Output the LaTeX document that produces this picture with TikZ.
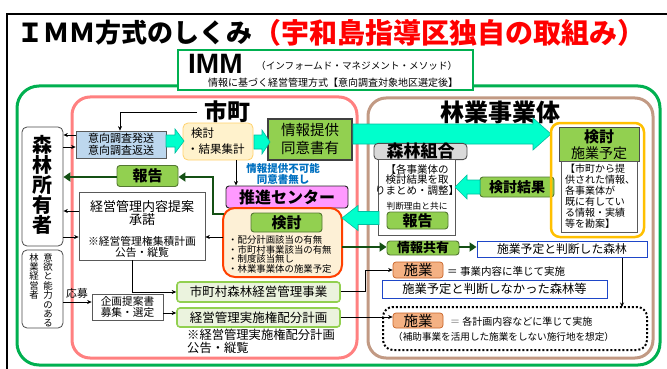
\documentclass[tikz,border=0pt]{standalone}
\usepackage{fontspec}
\setmainfont{Noto Sans CJK JP}
\newfontfamily\latinf{Liberation Sans}
\usetikzlibrary{arrows.meta}
\definecolor{gOuter}{RGB}{0,176,80}
\definecolor{pinkL}{RGB}{255,128,128}
\definecolor{brownL}{RGB}{194,154,132}
\definecolor{cyanF}{RGB}{0,255,204}
\definecolor{cyanD}{RGB}{0,190,160}
\definecolor{gFill}{RGB}{146,208,80}
\definecolor{gDraw}{RGB}{84,120,50}
\definecolor{lBlue}{RGB}{189,215,238}
\definecolor{cream}{RGB}{255,242,204}
\definecolor{creamD}{RGB}{255,210,110}
\definecolor{violetF}{RGB}{255,153,255}
\definecolor{contF}{RGB}{253,240,214}
\definecolor{contD}{RGB}{255,64,0}
\definecolor{salmonF}{RGB}{244,177,131}
\definecolor{salmonD}{RGB}{200,100,40}
\definecolor{blueD}{RGB}{30,70,200}
\definecolor{fukano}{RGB}{0,112,192}
\definecolor{orangeL}{RGB}{255,192,0}
\definecolor{grayH}{RGB}{217,217,217}
\definecolor{dGreen}{RGB}{20,80,20}
\definecolor{lGreenF}{RGB}{235,243,222}
\newcommand\fsz[2]{\fontsize{#1pt}{#2pt}\selectfont}
\newcommand\blkarrow[6]{\filldraw[fill=cyanF,draw=cyanD,line width=0.6pt] ({#1},{#4-#5}) -- ({#2},{#4-#5}) -- ({#2},{#4-#6}) -- ({#3},{#4}) -- ({#2},{#4+#6}) -- ({#2},{#4+#5}) -- ({#1},{#4+#5}) -- cycle;}
\begin{document}
\begin{tikzpicture}[x=1pt,y=-1pt,
  every node/.style={inner sep=0pt},
  box/.style={draw=gray!70!black,line width=0.7pt,fill=white},
  gbox/.style={draw=gDraw,line width=0.9pt,fill=gFill,rounded corners=3pt},
  lgbox/.style={draw=gFill,line width=1.6pt,fill=lGreenF,rounded corners=3pt},
  bbox/.style={draw=blueD,line width=1pt,fill=white},
  sbox/.style={draw=salmonD,line width=0.7pt,fill=salmonF,rounded corners=3pt},
  tarrow/.style={-{Stealth[length=4.5pt,width=4pt]},line width=0.7pt},
  dgarrow/.style={-{Triangle[length=7pt,width=9pt]},line width=2.6pt,draw=dGreen}]
\useasboundingbox (0,0) rectangle (667,369);
\fill[white] (0,0) rectangle (667,369);
% frame
\draw[line width=1.2pt] (7,369) -- (7,14) -- (667,14);
% title
\node[anchor=west,font=\fsz{26}{26}\bfseries] (t1) at (17,33) {ＩＭＭ方式のしくみ};
\node[anchor=west,font=\fsz{28}{28}\bfseries,text=red] (t2) at (253,33) {（宇和島指導区独自の取組み）};
% big containers
\draw[gOuter,line width=3pt,rounded corners=22pt] (17,86) rectangle (660,365);
\draw[pinkL,line width=3pt,rounded corners=18pt] (72,97) rectangle (357,358);
\draw[brownL,line width=3pt,rounded corners=18pt] (368,98) rectangle (653,358);
% IMM box
\node[draw=gOuter,line width=1.5pt,fill=white,minimum width=295pt,minimum height=40pt] (imm) at (325.5,70) {};
\node[anchor=base west,font=\latinf\fsz{28}{28}\bfseries] (immt) at (188,73.5) {IMM};
\node[anchor=west,font=\fsz{9.6}{10}] (immsub) at (256,66) {（インフォームド・マネジメント・メソッド）};
\node[font=\fsz{10}{10}] (immsub2) at (333,83) {情報に基づく経営管理方式【意向調査対象地区選定後】};
% headings
\node[font=\fsz{23}{23}\bfseries] (shicho) at (227,112) {市町};
\node[font=\fsz{24}{24}\bfseries] (ringyo) at (500,112) {林業事業体};
% left column
\node[draw=gray!60!black,line width=0.8pt,fill=white,rounded corners=5pt,minimum width=41pt,minimum height=119pt] (owner) at (42.5,186.5) {};
\node[font=\fsz{20}{20}\bfseries,align=center] (ownert) at (42.5,185) {森\\林\\所\\有\\者};
\node[draw=gray!60!black,line width=0.8pt,fill=white,rounded corners=5pt,minimum width=41pt,minimum height=78pt] (abil) at (42.5,289) {};
\node[anchor=north,font=\fsz{9.4}{9.4},align=center] (abil1) at (48,253) {意\\欲\\と\\能\\力\\の\\あ\\る};
\node[anchor=north,font=\fsz{9.4}{9.4},align=center] (abil2) at (34,253) {林\\業\\経\\営\\者};
% survey box
\node[box,fill=lBlue,minimum width=90pt,minimum height=27pt,font=\fsz{11}{11.5},align=center] (ikou) at (121,144.5) {意向調査発送\\意向調査返送};
\coordinate (shichoL) at (197,112);
\draw[tarrow] (shichoL) -| (ikou.north -| 120,0);
\draw[tarrow] (ikou.west |- 0,135) -- (owner.east |- 0,135);
\draw[tarrow] (owner.east |- 0,147) -- (ikou.west |- 0,147);
% kento1
\node[draw=creamD,line width=0.8pt,fill=cream,rounded corners=5pt,minimum width=70pt,minimum height=37pt] (kento1) at (218,141.5) {};
\node[anchor=west,font=\fsz{11.5}{11.5}] (k1a) at (191,133) {検討};
\node[anchor=west,font=\fsz{11.5}{11.5}] (k1b) at (187,149) {・結果集計};
% jouhou
\node[draw=black!75,line width=1.6pt,fill=gFill,minimum width=84pt,minimum height=41pt,font=\fsz{14.5}{18},align=center] (jouhou) at (310,139.5) {情報提供\\同意書有};
% cyan arrows top
\blkarrow{166}{175}{184}{141}{6}{12}
\blkarrow{254}{262}{270}{142}{7}{12}
\blkarrow{353}{533}{551}{134}{10}{16}
% fukano
\node[font=\fsz{10.5}{10.5}\bfseries,text=fukano,align=center] (fukano) at (283,174) {情報提供不可能\\同意書無し};
% suishin
\node[draw=black!85,line width=0.9pt,fill=violetF,rounded corners=3pt,minimum width=122pt,minimum height=22pt,font=\fsz{16}{16}\bfseries] (suishin) at (287,197) {推進センター};
\draw[tarrow] (kento1.south -| 236,0) -- (suishin.north -| 236,0);
% container
\draw[contD,line width=2pt,fill=contF,rounded corners=12pt] (223,208) rectangle (342,277);
\coordinate (contL) at (224,214);
\coordinate (contLb) at (223,237);
\coordinate (contR) at (342,247);
\node[gbox,minimum width=71pt,minimum height=19pt,font=\fsz{15}{15}\bfseries] (kento2) at (286.5,222.5) {検討};
\node[anchor=north west,font=\fsz{9.4}{9.5},align=left] (bul) at (228,235.5) {・配分計画該当の有無\\・市町村事業該当の有無\\・制度該当無し\\・林業事業体の施業予定};
% houkoku left
\node[gbox,minimum width=61pt,minimum height=21pt,font=\fsz{15}{15}\bfseries] (hk1) at (147.5,176) {報告};
\draw[dgarrow] (contL) -- (213,214) -- (213,177) -- (hk1.east |- 0,177);
\draw[dgarrow] (hk1.west |- 0,177) -- (owner.east |- 0,177);
% keiei box
\node[box,minimum width=126pt,minimum height=68pt] (keiei) at (142,226) {};
\node[font=\fsz{13}{13},align=center] (keieit) at (142,213.5) {経営管理内容提案\\承諾};
\node[font=\fsz{10.8}{11},align=center] (keieit2) at (142,247) {※経営管理権集積計画\\公告・縦覧};
\draw[tarrow] (keiei.west |- 0,211) -- (owner.east |- 0,211);
\draw[tarrow] (owner.east |- 0,237) -- (keiei.west |- 0,237);
\draw[tarrow] (contLb) -- (keiei.east |- 0,237);
% lower left
\node[lgbox,minimum width=163pt,minimum height=20pt,font=\fsz{12.5}{12.5}] (shichoson) at (258.5,292) {市町村森林経営管理事業};
\node[lgbox,minimum width=163pt,minimum height=19pt,font=\fsz{12.5}{12.5}] (haibun) at (258.5,317.5) {経営管理実施権配分計画};
\node[anchor=north west,font=\fsz{12.3}{13},align=left] (note) at (187,329) {※経営管理実施権配分計画\\公告・縦覧};
\draw[tarrow] (keiei.south -| 132,0) |- (shichoson.west);
\node[box,minimum width=71pt,minimum height=26pt,font=\fsz{10.7}{11.5},align=center] (kikaku) at (127.5,307) {企画提案書\\募集・選定};
\node[anchor=west,font=\fsz{10.8}{10.8}] (oubo) at (66,293) {応募};
\draw[tarrow] (abil.east |- 0,302) -- (kikaku.west |- 0,302);
\draw[tarrow] (kikaku.east |- 0,313) -- (haibun.west |- 0,313);
% right side: shinrin kumiai
\node[draw=gray!60!black,line width=0.9pt,fill=grayH,rounded corners=4pt,minimum width=93pt,minimum height=16pt,font=\fsz{17}{17}\bfseries] (kumiai) at (420.5,151.5) {森林組合};
\node[box,minimum width=77pt,minimum height=76pt] (kumiaibox) at (416.5,197.5) {};
\node[font=\fsz{10.5}{10.5},align=center] (kumiait) at (417,179.5) {【各事業体の\\検討結果を取\\りまとめ・調整】};
\node[font=\fsz{8.7}{8.7}] (riyuu) at (417,206) {判断理由と共に};
\node[gbox,minimum width=61pt,minimum height=17pt,font=\fsz{15}{15}\bfseries] (hk2) at (417.5,220.5) {報告};
\node[gbox,minimum width=74pt,minimum height=20pt,font=\fsz{14}{14}\bfseries] (kekka) at (517,187) {検討結果};
\blkarrow{480}{467}{455}{187}{7}{12}
\blkarrow{379}{358}{342}{218}{6.5}{12.5}
% orange group
\draw[orangeL,line width=2.5pt,rounded corners=9pt] (551,123) rectangle (644,237);
\node[draw=black!70,line width=1pt,fill=gFill,minimum width=80pt,minimum height=34pt] (kento3) at (599,144) {};
\node[font=\fsz{15}{15}\bfseries] (k3a) at (599,137) {検討};
\node[font=\fsz{14}{14}] (k3b) at (599,153) {施業予定};
\node[box,minimum width=76pt,minimum height=71pt] (kanbox) at (599,196.5) {};
\node[anchor=north west,font=\fsz{10}{11},align=left] (kant) at (565,164) {【市町から提\\供された情報、\\各事業体が\\既に有してい\\る情報・実績\\等を勘案】};
% info share
\node[gbox,minimum width=72pt,minimum height=14pt,font=\fsz{13}{13}\bfseries] (kyouyu) at (423,248) {情報共有};
\node[bbox,minimum width=170pt,minimum height=16pt,font=\fsz{11.8}{11.8}] (yotei) at (562,249) {施業予定と判断した森林};
\draw[dgarrow] (contR) -- (kyouyu.west |- 0,247);
\draw[dgarrow] (kyouyu.east |- 0,247) -- (yotei.west |- 0,247);
% sekou 1
\node[sbox,minimum width=50pt,minimum height=16pt,font=\fsz{14.5}{14.5}] (sk1) at (418,270) {施業};
\node[anchor=west,font=\fsz{10.5}{10.5}] (sk1t) at (447,271) {＝ 事業内容に準じて実施};
\draw[tarrow] (shichoson.east |- 0,291) -- (365,291) |- (sk1.west);
\node[bbox,minimum width=225pt,minimum height=18pt,font=\fsz{12.3}{12.3}] (nashi) at (494.5,289) {施業予定と判断しなかった森林等};
% dotted
\draw[line width=2pt,dotted,rounded corners=10pt] (383,307) rectangle (647,350);
\coordinate (dotTop) at (622,307);
\draw[tarrow] (yotei.south -| 622,0) -- (dotTop);
\node[sbox,minimum width=50pt,minimum height=15pt,font=\fsz{14.5}{14.5}] (sk2) at (418,320.5) {施業};
\node[anchor=west,font=\fsz{10}{10}] (sk2t) at (450,322) {{\color{gray}＝} 各計画内容などに準じて実施};
\node[anchor=west,font=\fsz{9.6}{9.6}] (sk2n) at (393,337) {（補助事業を活用した施業をしない施行地を想定）};
\draw[tarrow] (haibun.east |- 0,317) -- (sk2.west |- 0,317);
\end{tikzpicture}
\end{document}
